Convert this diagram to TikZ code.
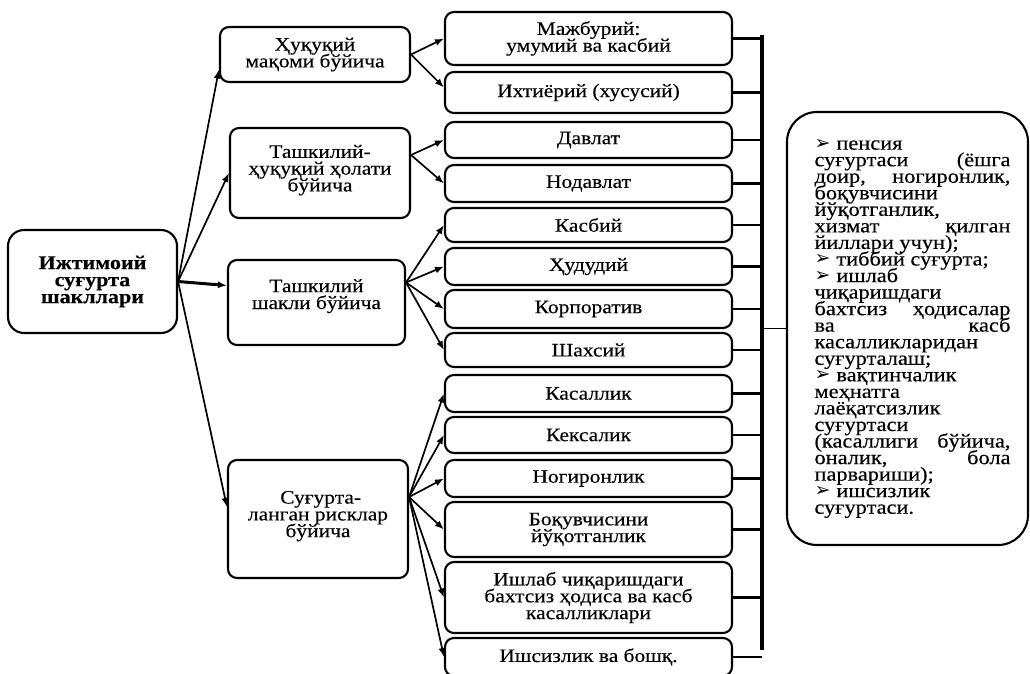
\documentclass[tikz,border=0pt]{standalone}
\usepackage{fontspec}
\setmainfont[FakeStretch=1.13,FakeBold=0.3]{Liberation Serif}
\newfontfamily\dv{DejaVu Sans}
\usetikzlibrary{arrows.meta}
\newcommand{\bul}{{\dv\fontsize{19}{12}\selectfont\raisebox{0.5pt}{➢}}\hspace{6pt}}
\newcommand{\tight}{\lineskiplimit=-100pt\relax}
\begin{document}
\begin{tikzpicture}[x=1pt,y=-1pt,
  box/.style={draw, line width=2.1pt, rounded corners=9pt, align=center,
    font=\fontsize{19}{16.8}\selectfont\tight, inner sep=0pt},
  rbox/.style={box, minimum width=287pt},
  arr/.style={-{Latex[length=9pt,width=7pt]}, line width=1.7pt},
  tie/.style={line width=2.6pt}]
\clip (0,0) rectangle (1030,674);
% left node
\node[box, rounded corners=16pt, minimum width=169pt, minimum height=103pt,
  font=\fontsize{19.5}{17}\selectfont\bfseries\tight] (L) at (92.5,281.5)
  {Ижтимоий\\суғурта\\шакллари};
% middle nodes
\node[box, minimum width=190pt, minimum height=55pt] (M1) at (315,54.5) {Ҳуқуқий\\мақоми бўйича};
\node[box, minimum width=180pt, minimum height=90pt] (M2) at (320,173) {Ташкилий-\\ҳуқуқий ҳолати\\бўйича\\[-7pt]\mbox{}};
\node[box, minimum width=177pt, minimum height=85pt] (M3) at (316.5,302.5) {Ташкилий\\шакли бўйича\\\mbox{}};
\node[box, minimum width=180pt, minimum height=118pt] (M4) at (318,519) {\ Суғурта-\\ланган рисклар\\бўйича\\[-7pt]\mbox{}};
% right nodes
\node[rbox, minimum height=53pt] (R1) at (588.5,38.5) {Мажбурий:\\умумий ва касбий};
\node[rbox, minimum height=41pt] (R2) at (588.5,92.5) {Ихтиёрий (хусусий)};
\node[rbox, minimum height=36pt] (R3) at (588.5,140) {Давлат};
\node[rbox, minimum height=37pt] (R4) at (588.5,183.5) {Нодавлат};
\node[rbox, minimum height=34pt] (R5) at (588.5,225) {Касбий};
\node[rbox, minimum height=37pt] (R6) at (588.5,266.5) {Ҳудудий};
\node[rbox, minimum height=38pt] (R7) at (588.5,309) {Корпоратив};
\node[rbox, minimum height=34pt] (R8) at (588.5,350) {Шахсий};
\node[rbox, minimum height=37pt] (R9) at (588.5,393.5) {Касаллик};
\node[rbox, minimum height=36pt] (R10) at (588.5,435) {Кексалик};
\node[rbox, minimum height=37pt] (R11) at (588.5,478.5) {Ногиронлик};
\node[rbox, minimum height=55pt] (R12) at (588.5,529.5) {Боқувчисини\\йўқотганлик};
\node[rbox, minimum height=71pt] (R13) at (588.5,597.5) {Ишлаб чиқаришдаги\\бахтсиз ҳодиса ва касб\\касалликлари};
\node[rbox, minimum height=38pt] (R14) at (588.5,657) {Ишсизлик ва бошқ.};
% big box
\node[box, rounded corners=30pt, minimum width=241pt, minimum height=433pt] (B) at (907.5,328.5)
  {\hspace{10pt}\raisebox{4pt}{\parbox{196pt}{\fontsize{19.8}{16.55}\selectfont\tight
  \bul пенсия\\
  суғуртаси\hfill(ёшга\\
  доир,\hfill ногиронлик,\\
  боқувчисини\\
  йўқотганлик,\\
  хизмат\hfill қилган\\
  йиллари учун);\\
  \bul тиббий суғурта;\\
  \bul ишлаб\\
  чиқаришдаги\\
  бахтсиз\hfill ҳодисалар\\
  ва\hfill касб\\
  касалликларидан\\
  суғурталаш;\\
  \bul вақтинчалик\\
  меҳнатга\\
  лаёқатсизлик\\
  суғуртаси\\
  (касаллиги\hfill бўйича,\\
  оналик,\hfill бола\\
  парвариши);\\
  \bul ишсизлик\\
  суғуртаси.}}};
% arrows from left node
\draw[arr] (L.east) -- ([yshift=-15pt]M1.west);
\draw[arr] (L.east) -- (M2.west);
\draw[arr, line width=3pt] (L.east) -- ([yshift=17pt]M3.west);
\draw[arr] (L.east) -- ([yshift=12pt]M4.west);
% arrows from middle nodes
\draw[arr] (M1.east) -- (R1.west);
\draw[arr] (M1.east) -- ([yshift=5pt]R2.west);
\coordinate (m2o) at ([yshift=18pt]M2.east);
\draw[arr] (m2o) -- (R3.west);
\draw[arr] (m2o) -- (R4.west);
\coordinate (m3o) at ([yshift=20pt]M3.east);
\foreach \r in {R5,R6,R7,R8} \draw[arr] (m3o) -- (\r.west);
\coordinate (m4o) at ([yshift=22pt]M4.east);
\foreach \r in {R9,R10,R11,R12,R13,R14} \draw[arr] (m4o) -- (\r.west);
% bracket
\coordinate (bt) at (762,35);
\coordinate (bb) at (762,650);
\draw[line width=4.5pt] (bt) -- (bb);
\foreach \r in {R1,R2,R3,R4,R5,R6,R7,R8,R9,R10,R11,R12,R13,R14}
  \draw[tie] (\r.east) -- (\r.east -| bt);
\draw[line width=1.3pt] (B.west -| bt) -- (B.west);
\end{tikzpicture}
\end{document}
